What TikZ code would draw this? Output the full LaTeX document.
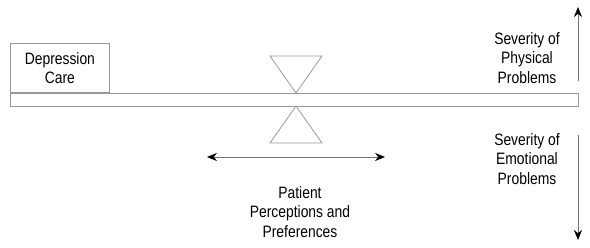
\documentclass[tikz,border=0pt]{standalone}
\usepackage{fontspec}
\setmainfont[FakeStretch=0.84]{Liberation Sans}
\usetikzlibrary{arrows.meta,positioning}

\begin{document}
\begin{tikzpicture}[x=1pt,y=-1pt,
  lbl/.style={align=center,font=\fontsize{16.5}{19.5}\selectfont},
  frame/.style={draw=gray!80,line width=.8pt},
  tip/.style={-{Stealth[length=10pt,width=8pt,black]},draw=gray!90!black,line width=.8pt}]
\useasboundingbox (0,0) rectangle (590,247);
% the beam
\draw[frame] (10,93) rectangle (578,106);
\node[frame,minimum width=99pt,minimum height=49pt,anchor=south west,inner sep=0pt,lbl] (care) at (10,93) {Depression\\Care};
% pivots
\draw[frame] (270,56) -- (322,56) -- (296,93) -- cycle;
\draw[frame] (296,106) -- (322,143) -- (270,143) -- cycle;
% patient side
\coordinate (pl) at (207,157);
\coordinate (pr) at (385,157);
\draw[tip,{Stealth[length=10pt,width=8pt,black]}-{Stealth[length=10pt,width=8pt,black]}] (pl) -- (pr);
\node[lbl] (pat) at (300,212) {Patient\\Perceptions and\\Preferences};
% severity scale
\coordinate (up0) at (578,81);
\coordinate (up1) at (578,7);
\coordinate (dn0) at (578,135);
\coordinate (dn1) at (578,240);
\draw[tip] (up0) -- (up1);
\draw[tip] (dn0) -- (dn1);
\node[lbl] (phys) at (527,58) {Severity of\\Physical\\Problems};
\node[lbl] (emo) at (527,159) {Severity of\\Emotional\\Problems};
\end{tikzpicture}
\end{document}
